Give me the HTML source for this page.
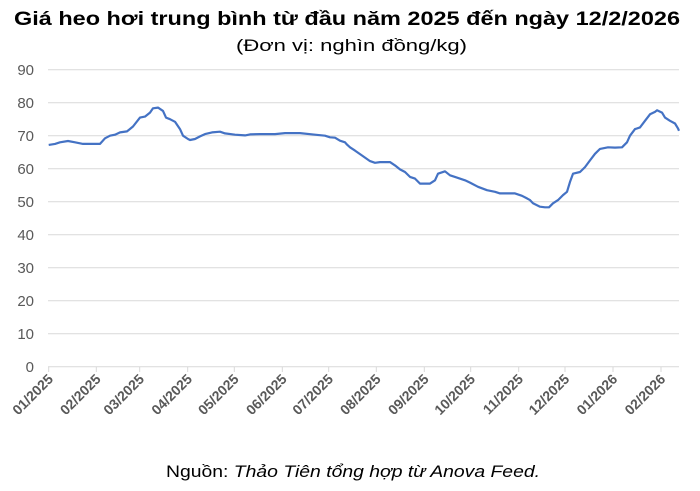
<!DOCTYPE html>
<html><head><meta charset="utf-8"><style>body{margin:0;background:#fff}svg{display:block}</style></head><body>
<svg width="700" height="491" xmlns="http://www.w3.org/2000/svg" font-family="Liberation Sans, DejaVu Sans, sans-serif">
<text x="14" y="25" font-size="19" font-weight="bold" fill="#000" textLength="666" lengthAdjust="spacingAndGlyphs">Giá heo hơi trung bình từ đầu năm 2025 đến ngày 12/2/2026</text>
<text x="236" y="51" font-size="17" fill="#000" textLength="231" lengthAdjust="spacingAndGlyphs">(Đơn vị: nghìn đồng/kg)</text>
<g stroke="#d9d9d9" stroke-width="1">
<line x1="48" x2="679" y1="69.7" y2="69.7"/><line x1="48" x2="679" y1="102.7" y2="102.7"/><line x1="48" x2="679" y1="135.7" y2="135.7"/><line x1="48" x2="679" y1="168.7" y2="168.7"/><line x1="48" x2="679" y1="201.7" y2="201.7"/><line x1="48" x2="679" y1="234.7" y2="234.7"/><line x1="48" x2="679" y1="267.7" y2="267.7"/><line x1="48" x2="679" y1="300.7" y2="300.7"/><line x1="48" x2="679" y1="333.7" y2="333.7"/><line x1="48" x2="679" y1="366.7" y2="366.7"/>
<line x1="48.7" x2="48.7" y1="366.7" y2="372"/><line x1="96.3" x2="96.3" y1="366.7" y2="372"/><line x1="139.7" x2="139.7" y1="366.7" y2="372"/><line x1="187.7" x2="187.7" y1="366.7" y2="372"/><line x1="234.3" x2="234.3" y1="366.7" y2="372"/><line x1="282.3" x2="282.3" y1="366.7" y2="372"/><line x1="328.7" x2="328.7" y1="366.7" y2="372"/><line x1="376.3" x2="376.3" y1="366.7" y2="372"/><line x1="424.3" x2="424.3" y1="366.7" y2="372"/><line x1="470.7" x2="470.7" y1="366.7" y2="372"/><line x1="518.7" x2="518.7" y1="366.7" y2="372"/><line x1="565" x2="565" y1="366.7" y2="372"/><line x1="613" x2="613" y1="366.7" y2="372"/><line x1="661" x2="661" y1="366.7" y2="372"/>
</g>
<g font-size="15" fill="#595959" text-anchor="end">
<text x="34" y="75">90</text><text x="34" y="108">80</text><text x="34" y="141">70</text><text x="34" y="174">60</text><text x="34" y="207">50</text><text x="34" y="240">40</text><text x="34" y="273">30</text><text x="34" y="306">20</text><text x="34" y="339">10</text><text x="34" y="372">0</text>
</g>
<g font-size="14" fill="#595959" text-anchor="end" font-weight="bold">
<text transform="translate(54,380) rotate(-45)">01/2025</text>
<text transform="translate(101.6,380) rotate(-45)">02/2025</text>
<text transform="translate(145,380) rotate(-45)">03/2025</text>
<text transform="translate(193,380) rotate(-45)">04/2025</text>
<text transform="translate(239.6,380) rotate(-45)">05/2025</text>
<text transform="translate(287.6,380) rotate(-45)">06/2025</text>
<text transform="translate(334,380) rotate(-45)">07/2025</text>
<text transform="translate(381.6,380) rotate(-45)">08/2025</text>
<text transform="translate(429.6,380) rotate(-45)">09/2025</text>
<text transform="translate(476,380) rotate(-45)">10/2025</text>
<text transform="translate(524,380) rotate(-45)">11/2025</text>
<text transform="translate(570.3,380) rotate(-45)">12/2025</text>
<text transform="translate(618.3,380) rotate(-45)">01/2026</text>
<text transform="translate(666.3,380) rotate(-45)">02/2026</text>
</g>
<polyline fill="none" stroke="#4472c4" stroke-width="2.2" stroke-linejoin="round" id="ln" points=""/>
<text x="166" y="477" font-size="17" fill="#000" textLength="374" lengthAdjust="spacingAndGlyphs">Nguồn: <tspan font-style="italic">Thảo Tiên tổng hợp từ Anova Feed.</tspan></text>
<script>
var d=[[48.7,67.2],[55,67.5],[60,68],[68,68.4],[75,68],[83,67.5],[100,67.5],[105,69.2],[110,70],[115,70.3],[120,71],[127,71.3],[133,72.8],[140,75.5],[145,75.8],[150,77],[153,78.3],[158,78.5],[163,77.5],[166,75.5],[170,75],[175,74.2],[180,72],[183,70],[188,69],[190,68.7],[195,69],[200,69.8],[205,70.5],[212,71],[220,71.2],[225,70.7],[235,70.3],[245,70.1],[250,70.4],[260,70.5],[275,70.5],[285,70.8],[300,70.8],[315,70.3],[325,70],[330,69.5],[335,69.4],[340,68.5],[345,68],[347,67.3],[350,66.5],[355,65.5],[362,64],[370,62.3],[375,61.8],[380,62],[390,62],[395,61],[400,59.8],[405,59],[410,57.5],[415,57],[420,55.5],[430,55.5],[435,56.5],[438,58.5],[445,59.2],[450,58],[455,57.5],[465,56.5],[470,55.8],[478,54.5],[487,53.5],[495,53],[500,52.5],[508,52.5],[515,52.5],[522,51.8],[527,51],[530,50.5],[533,49.5],[540,48.5],[545,48.3],[549,48.3],[553,49.5],[558,50.5],[563,52],[567,53],[570,56],[573,58.5],[580,59],[585,60.5],[590,62.5],[595,64.5],[600,66],[608,66.5],[615,66.4],[622,66.5],[627,68],[630,70],[635,72],[640,72.5],[645,74.5],[650,76.5],[655,77.2],[657,77.7],[662,77],[665,75.5],[670,74.5],[675,73.7],[678,72.2],[679,71.5]];
document.getElementById('ln').setAttribute('points',d.map(function(p){return p[0]+','+(366.7-p[1]*3.3).toFixed(1)}).join(' '));
</script>
</svg>
</body></html>
